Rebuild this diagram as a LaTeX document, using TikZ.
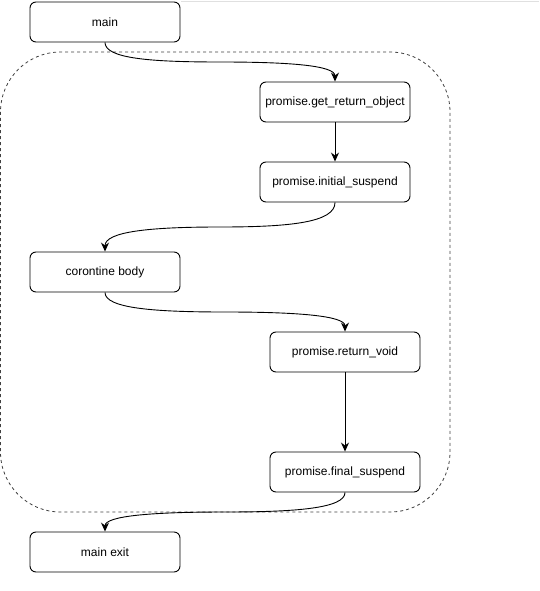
\documentclass[tikz,border=0pt]{standalone}
\usepackage{fontspec}
\setmainfont{Liberation Sans}
\usetikzlibrary{arrows.meta, calc}

\begin{document}
\begin{tikzpicture}[x=1pt, y=-1pt,
    stage/.style={draw, rounded corners=6pt, line width=0.9pt, minimum width=150pt, minimum height=40pt, inner sep=0pt, font={\fontsize{12}{14}\selectfont}},
    flow/.style={-{Stealth[length=9pt, width=8pt]}, line width=0.9pt}]
    \useasboundingbox (0,0) rectangle (539,591);
    % page edge
    \draw[black!12, line width=1pt] (181,1.5) -- (539,1.5);
    % coroutine frame
    \draw[black!75, dashed, line width=0.8pt, rounded corners=60pt] (0.5,52) rectangle (450,512);
    % stages
    \node[stage] (main) at (105,22) {main};
    \node[stage] (getret) at (335,102) {promise.get\_return\_object};
    \node[stage] (initsusp) at (335,182) {promise.initial\_suspend};
    \node[stage] (body) at (105,272) {corontine body};
    \node[stage] (retvoid) at (345,352) {promise.return\_void};
    \node[stage] (finsusp) at (345,472) {promise.final\_suspend};
    \node[stage] (mainexit) at (105,552) {main exit};
    % connectors
    \coordinate (m1) at ($(main.south)!0.5!(getret.north)$);
    \coordinate (m2) at ($(initsusp.south)!0.5!(body.north)$);
    \coordinate (m3) at ($(body.south)!0.5!(retvoid.north)$);
    \coordinate (m4) at ($(finsusp.south)!0.5!(mainexit.north)$);
    \draw[flow] (main.south) .. controls +(0,16) and +(-70,0) .. (m1) .. controls +(70,0) and +(0,-16) .. (getret.north);
    \draw[flow] (getret) -- (initsusp);
    \draw[flow] (initsusp.south) .. controls +(0,20) and +(70,0) .. (m2) .. controls +(-70,0) and +(0,-20) .. (body.north);
    \draw[flow] (body.south) .. controls +(0,16) and +(-70,0) .. (m3) .. controls +(70,0) and +(0,-16) .. (retvoid.north);
    \draw[flow] (retvoid) -- (finsusp);
    \draw[flow] (finsusp.south) .. controls +(0,16) and +(70,0) .. (m4) .. controls +(-70,0) and +(0,-16) .. (mainexit.north);
\end{tikzpicture}
\end{document}
